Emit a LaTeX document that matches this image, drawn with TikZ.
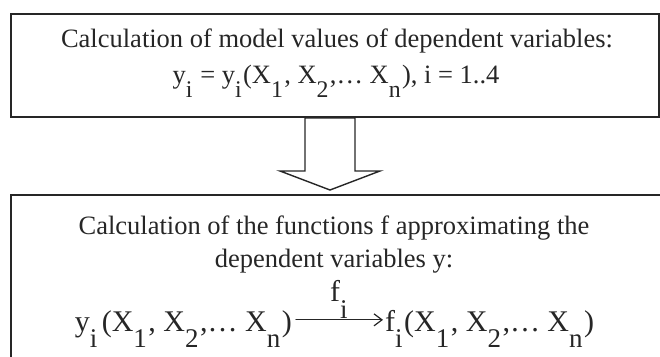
\documentclass[tikz,border=0pt]{standalone}
\usepackage{fontspec}
\setmainfont{Liberation Serif}
\usetikzlibrary{arrows.meta}
\newcommand{\low}[1]{\raisebox{-.55em}{\fontsize{.9em}{1em}\selectfont #1}\kern.05em\relax}

\begin{document}
\begin{tikzpicture}[x=1pt,y=-1pt,>={Straight Barb[length=8pt,width=12pt]},line cap=round,
    box/.style={draw=black!85,line width=1.6pt,inner sep=0pt},
    txt/.style={inner sep=0pt,anchor=base,text=black!85,font=\fontsize{26.5}{30}\selectfont},
    big/.style={txt,font=\fontsize{30}{34}\selectfont}]
    \useasboundingbox (0,0) rectangle (660,356);
    \clip (0,0) rectangle (660,356);
    \node[box,anchor=north west,minimum width=648pt,minimum height=103pt] (calc) at (10,13) {};
    \node[box,anchor=north west,minimum width=700pt,minimum height=220pt] (approx) at (10,194) {};
    \draw[box,line width=1.4pt,line join=miter] (305,118) -- (305,171) -- (280,171) -- (330,190) -- (380,171) -- (355,171) -- (355,118) -- cycle;
    \node[txt] (calcA) at (337,47) {Calculation of model values of dependent variables:};
    \node[txt] (calcB) at (336,83) {y\low{i} = y\low{i}(X\low{1}, X\low{2},\ldots\ X\low{n}), i = 1..4};
    \node[txt] (apprA) at (334,234) {Calculation of the functions f approximating the};
    \node[txt] (apprB) at (334,267) {dependent variables y:};
    \node[big,anchor=base east] (ysrc) at (292,331) {y\low{i}\kern.1em(X\low{1}, X\low{2},\ldots\ X\low{n})};
    \node[big,anchor=base west] (fdst) at (385,331) {f\low{i}(X\low{1}, X\low{2},\ldots\ X\low{n})};
    \draw[->,black!85,line width=1.2pt] (ysrc.east) ++(4,-9) coordinate (s) -- node[big,anchor=south,above=1pt] {f\low{i}} ([xshift=-2pt]s -| fdst.west);
\end{tikzpicture}
\end{document}
